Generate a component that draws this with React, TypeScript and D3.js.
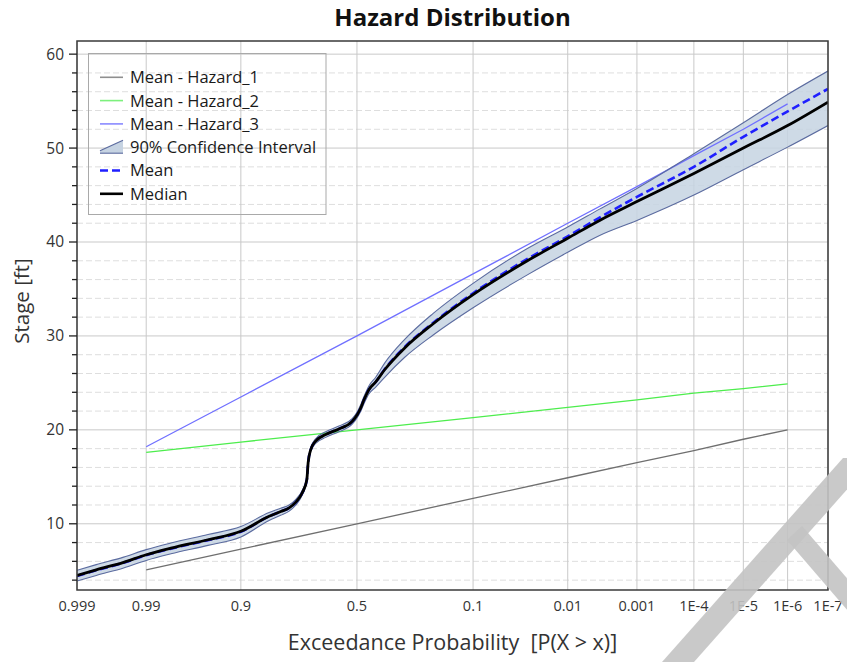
import React from "react";
import * as d3 from "d3";

// ---- chart data -----------------------------------------------------------

// exceedance-probability axis ticks
const probTicks = [0.999, 0.99, 0.9, 0.5, 0.1, 0.01, 0.001, 1e-4, 1e-5, 1e-6, 1e-7];
const probTickLabels = ["0.999", "0.99", "0.9", "0.5", "0.1", "0.01", "0.001", "1E-4", "1E-5", "1E-6", "1E-7"];

// stage axis ticks
const stageMajorTicks = [10, 20, 30, 40, 50, 60];
const stageMinorTicks = [4, 6, 8, 12, 14, 16, 18, 22, 24, 26, 28, 32, 34, 36, 38, 42, 44, 46, 48, 52, 54, 56, 58];

// individual hazard mean curves
const hazardProbs = [0.99, 0.9, 0.5, 0.1, 0.01, 0.001, 1e-4, 1e-5, 1e-6];
const hazard1Mean = [5.1, 7.3, 10.0, 12.7, 14.9, 16.5, 17.8, 19.0, 20.0];
const hazard2Mean = [17.6, 18.7, 20.0, 21.3, 22.4, 23.2, 23.9, 24.4, 24.9];
const hazard3Mean = [18.2, 23.5, 30.0, 36.6, 42.0, 45.9, 49.2, 52.0, 54.7];

// combined distribution
const combinedProbs = [
  0.999, 0.998, 0.995, 0.99, 0.98, 0.95, 0.9, 0.834, 0.8, 0.773, 0.75, 0.727,
  0.71, 0.705, 0.695, 0.676, 0.635, 0.579, 0.521, 0.499, 0.484, 0.469, 0.447,
  0.418, 0.38, 0.3, 0.2, 0.1, 0.03, 0.01, 0.0037, 0.001, 1e-4, 1e-5, 1e-6, 1e-7,
];
const medianStage = [
  4.5, 5.1, 5.9, 6.7, 7.4, 8.3, 9.2, 10.8, 11.3, 11.7, 12.3, 13.3,
  14.7, 16.5, 17.9, 18.8, 19.5, 20.1, 20.9, 21.6, 22.3, 23.2, 24.3,
  25.1, 26.4, 28.7, 31.3, 34.4, 38.0, 40.4, 42.3, 44.3, 47.3, 50.0, 52.4, 54.9,
];
const meanStage = [
  4.45, 5.05, 5.85, 6.65, 7.35, 8.25, 9.15, 10.8, 11.3, 11.7, 12.3, 13.3,
  14.7, 16.5, 17.9, 18.8, 19.5, 20.1, 20.9, 21.6, 22.3, 23.2, 24.3,
  25.1, 26.45, 28.8, 31.4, 34.55, 38.2, 40.6, 42.6, 44.8, 48.0, 51.2, 53.9, 56.3,
];
const upperStage = [
  5.05, 5.65, 6.45, 7.25, 7.95, 8.85, 9.7, 11.2, 11.65, 12.0, 12.6, 13.55,
  14.9, 16.7, 18.1, 19.05, 19.8, 20.4, 21.2, 21.9, 22.65, 23.55, 24.7,
  25.6, 27.1, 29.6, 32.4, 35.6, 39.3, 41.6, 43.5, 45.7, 49.4, 52.7, 55.7, 58.2,
];
const lowerStage = [
  3.9, 4.5, 5.3, 6.1, 6.8, 7.7, 8.6, 10.35, 10.9, 11.35, 12.0, 13.05,
  14.5, 16.3, 17.7, 18.55, 19.2, 19.8, 20.6, 21.3, 21.95, 22.8, 23.85,
  24.55, 25.6, 27.7, 30.1, 33.0, 36.5, 38.9, 40.7, 42.3, 45.0, 47.7, 50.1, 52.4,
];

// ---- probability-paper helpers ---------------------------------------------

// inverse standard normal CDF (Acklam's rational approximation)
function normInv(p: number): number {
  const a = [-3.969683028665376e1, 2.209460984245205e2, -2.759285104469687e2, 1.38357751867269e2, -3.066479806614716e1, 2.506628277459239];
  const b = [-5.447609879822406e1, 1.615858368580409e2, -1.556989798598866e2, 6.680131188771972e1, -1.328068155288572e1];
  const c = [-7.784894002430293e-3, -3.223964580411365e-1, -2.400758277161838, -2.549732539343734, 4.374664141464968, 2.938163982698783];
  const d = [7.784695709041462e-3, 3.224671290700398e-1, 2.445134137142996, 3.754408661907416];
  const pl = 0.02425;
  if (p < pl) {
    const q = Math.sqrt(-2 * Math.log(p));
    return (((((c[0] * q + c[1]) * q + c[2]) * q + c[3]) * q + c[4]) * q + c[5]) / ((((d[0] * q + d[1]) * q + d[2]) * q + d[3]) * q + 1);
  }
  if (p <= 1 - pl) {
    const q = p - 0.5;
    const r = q * q;
    return ((((((a[0] * r + a[1]) * r + a[2]) * r + a[3]) * r + a[4]) * r + a[5]) * q) / (((((b[0] * r + b[1]) * r + b[2]) * r + b[3]) * r + b[4]) * r + 1);
  }
  const q = Math.sqrt(-2 * Math.log(1 - p));
  return -(((((c[0] * q + c[1]) * q + c[2]) * q + c[3]) * q + c[4]) * q + c[5]) / ((((d[0] * q + d[1]) * q + d[2]) * q + d[3]) * q + 1);
}
// exceedance probability -> standard normal variate
const zExceed = (p: number) => -normInv(p);

// ---- layout ----------------------------------------------------------------

const W = 847;
const H = 662;
const plot = { left: 77, right: 828, top: 41, bottom: 590 };
const FONT = "'Open Sans', 'Noto Sans', sans-serif";

const x = d3.scaleLinear().domain([zExceed(0.999), zExceed(1e-7)]).range([plot.left, plot.right]);
const y = d3.scaleLinear().domain([2.95, 61.4]).range([plot.bottom, plot.top]);

type Pt = [number, number];
const zip = (ps: number[], vs: number[]): Pt[] => ps.map((p, i) => [p, vs[i]]);

const smoothLine = d3.line<Pt>().x((d) => x(zExceed(d[0]))).y((d) => y(d[1])).curve(d3.curveMonotoneX);
const straightLine = d3.line<Pt>().x((d) => x(zExceed(d[0]))).y((d) => y(d[1]));
const bandArea = d3
  .area<[number, number, number]>()
  .x((d) => x(zExceed(d[0])))
  .y0((d) => y(d[1]))
  .y1((d) => y(d[2]))
  .curve(d3.curveMonotoneX);

const COLORS = {
  hazard1: "#6f6f6f",
  hazard2: "#4ded4d",
  hazard3: "#7070ff",
  bandFill: "#c6d3e2",
  bandEdge: "#5b6b9f",
  mean: "#1f1fff",
  median: "#000000",
  grid: "#c9c9c9",
  gridMinor: "#dedede",
};

export default function App() {
  const band = combinedProbs.map((p, i) => [p, lowerStage[i], upperStage[i]] as [number, number, number]);
  const legendRows = [
    { label: "Mean - Hazard_1", kind: "line", color: "#8f8f8f" },
    { label: "Mean - Hazard_2", kind: "line", color: "#7df07d" },
    { label: "Mean - Hazard_3", kind: "line", color: "#8a8aff" },
    { label: "90% Confidence Interval", kind: "band", color: COLORS.bandEdge },
    { label: "Mean", kind: "dash", color: COLORS.mean },
    { label: "Median", kind: "median", color: COLORS.median },
  ];
  const legendX0 = 100;
  const legendX1 = 123;
  const legendY0 = 77.3;
  const legendStep = 23.3;

  return (
    <svg width={W} height={H} style={{ position: "absolute", left: 0, top: 0, background: "#fff" }} fontFamily={FONT}>
      <defs>
        <clipPath id="plot-clip">
          <rect x={plot.left} y={plot.top} width={plot.right - plot.left} height={plot.bottom - plot.top} />
        </clipPath>
      </defs>
      <rect x={0} y={0} width={W} height={H} fill="#fff" />

      {/* grid */}
      {stageMinorTicks.map((t) => (
        <line key={"gm" + t} x1={plot.left} x2={plot.right} y1={y(t)} y2={y(t)} stroke={COLORS.gridMinor} strokeDasharray="6,3" />
      ))}
      {stageMajorTicks.map((t) => (
        <line key={"gM" + t} x1={plot.left} x2={plot.right} y1={y(t)} y2={y(t)} stroke={COLORS.grid} />
      ))}
      {probTicks.map((p) => (
        <line key={"gx" + p} x1={x(zExceed(p))} x2={x(zExceed(p))} y1={plot.top} y2={plot.bottom} stroke={COLORS.grid} />
      ))}

      <g clipPath="url(#plot-clip)">
        {/* confidence band */}
        <path d={bandArea(band) || ""} fill={COLORS.bandFill} fillOpacity={0.85} />
        {/* hazard means */}
        <path d={straightLine(zip(hazardProbs, hazard1Mean)) || ""} fill="none" stroke={COLORS.hazard1} strokeWidth={1.3} />
        <path d={straightLine(zip(hazardProbs, hazard2Mean)) || ""} fill="none" stroke={COLORS.hazard2} strokeWidth={1.3} />
        <path d={straightLine(zip(hazardProbs, hazard3Mean)) || ""} fill="none" stroke={COLORS.hazard3} strokeWidth={1.3} />
        {/* band edges */}
        <path d={smoothLine(zip(combinedProbs, upperStage)) || ""} fill="none" stroke={COLORS.bandEdge} strokeWidth={1.1} />
        <path d={smoothLine(zip(combinedProbs, lowerStage)) || ""} fill="none" stroke={COLORS.bandEdge} strokeWidth={1.1} />
        {/* mean & median */}
        <path d={smoothLine(zip(combinedProbs, meanStage)) || ""} fill="none" stroke={COLORS.mean} strokeWidth={2.6} strokeDasharray="8,4" />
        <path d={smoothLine(zip(combinedProbs, medianStage)) || ""} fill="none" stroke={COLORS.median} strokeWidth={2.8} />
      </g>

      {/* frame */}
      <rect x={plot.left} y={plot.top} width={plot.right - plot.left} height={plot.bottom - plot.top} fill="none" stroke="#3a3a3a" strokeWidth={1.5} />

      {/* y axis ticks */}
      {stageMajorTicks.map((t) => (
        <g key={"yt" + t}>
          <line x1={plot.left - 8} x2={plot.left} y1={y(t)} y2={y(t)} stroke="#222" strokeWidth={1.3} />
          <text x={plot.left - 13} y={y(t)} dy="0.35em" textAnchor="end" fontSize={15.5} fill="#333">
            {t}
          </text>
        </g>
      ))}
      {stageMinorTicks.map((t) => (
        <line key={"ym" + t} x1={plot.left - 5} x2={plot.left} y1={y(t)} y2={y(t)} stroke="#222" strokeWidth={1.3} />
      ))}

      {/* x axis labels */}
      {probTicks.map((p, i) => (
        <text key={"xl" + p} x={x(zExceed(p))} y={611} textAnchor="middle" fontSize={14.5} fill="#333">
          {probTickLabels[i]}
        </text>
      ))}

      {/* titles */}
      <text x={(plot.left + plot.right) / 2} y={26} textAnchor="middle" fontSize={24} fontWeight="bold" fill="#111">
        Hazard Distribution
      </text>
      <text x={(plot.left + plot.right) / 2} y={650} textAnchor="middle" fontSize={21.5} fill="#333" style={{ whiteSpace: "pre" }}>
        {"Exceedance Probability  [P(X > x)]"}
      </text>
      <text transform={`translate(29, 301) rotate(-90)`} textAnchor="middle" fontSize={20.5} fill="#333">
        Stage [ft]
      </text>

      {/* legend */}
      <rect x={88.5} y={53.5} width={237.5} height={161} fill="none" stroke="#a9a9a9" />
      {legendRows.map((r, i) => {
        const cy = legendY0 + i * legendStep;
        return (
          <g key={r.label}>
            {r.kind === "line" && <line x1={legendX0} x2={legendX1} y1={cy} y2={cy} stroke={r.color} strokeWidth={1.6} />}
            {r.kind === "dash" && <line x1={legendX0} x2={legendX1} y1={cy} y2={cy} stroke={r.color} strokeWidth={2.6} strokeDasharray="8,4" />}
            {r.kind === "median" && <line x1={legendX0} x2={legendX1} y1={cy} y2={cy} stroke={r.color} strokeWidth={2.6} />}
            {r.kind === "band" && (
              <g>
                <polygon points={`${legendX0},${cy + 3.5} ${legendX1},${cy - 7} ${legendX1},${cy + 6} ${legendX0},${cy + 6}`} fill={COLORS.bandFill} />
                <line x1={legendX0} x2={legendX1} y1={cy + 3.5} y2={cy - 7} stroke={r.color} strokeWidth={1.1} />
                <line x1={legendX0} x2={legendX1} y1={cy + 6} y2={cy + 6} stroke={r.color} strokeWidth={1.1} />
              </g>
            )}
            <text x={130} y={cy} dy="0.36em" fontSize={16.5} fill="#1a1a1a">
              {r.label}
            </text>
          </g>
        );
      })}

      {/* corner watermark */}
      <g fill="#c3c3c3" fillOpacity={0.9}>
        <polygon points="662,662 694,662 875,458 843,458" />
        <polygon points="787,540 802,526 870,605 855,619" />
      </g>
    </svg>
  );
}
